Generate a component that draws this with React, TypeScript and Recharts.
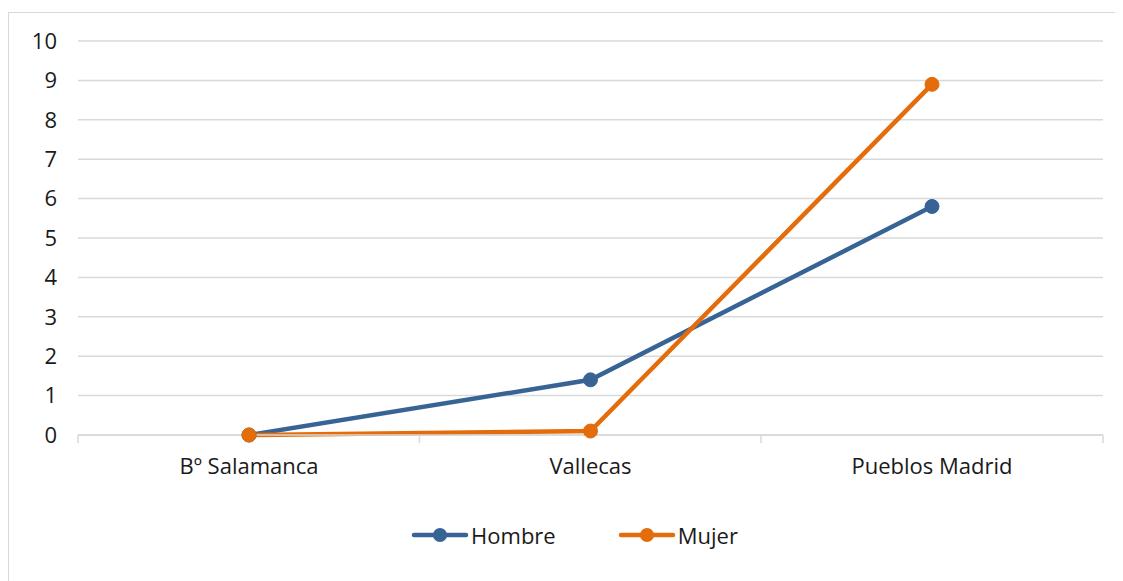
import React from 'react'
import { LineChart, Line, CartesianGrid, XAxis, YAxis, Legend } from 'recharts'

const zonas = ['Bº Salamanca', 'Vallecas', 'Pueblos Madrid']
const hombre = [0, 1.4, 5.8]
const mujer = [0, 0.1, 8.9]
const yTicks = [0, 1, 2, 3, 4, 5, 6, 7, 8, 9, 10]

const data = zonas.map((zona, i) => ({ zona, Hombre: hombre[i], Mujer: mujer[i] }))

const FONT = '"Open Sans", "Noto Sans", sans-serif'
const GRID = '#d9d9d9'
const BLUE = '#386395'
const ORANGE = '#e46c0a'
const HALF_BAND = 171

const CategoryTick = (props: any) => {
	const { x, y, payload, index, visibleTicksCount } = props
	const last = index === visibleTicksCount - 1
	return (
		<g>
			<line x1={x - HALF_BAND} x2={x - HALF_BAND} y1={y} y2={y + 8} stroke={GRID} strokeWidth={1.5} />
			{last && <line x1={x + HALF_BAND} x2={x + HALF_BAND} y1={y} y2={y + 8} stroke={GRID} strokeWidth={1.5} />}
			<text x={x} y={y + 39} textAnchor="middle" fontSize={22} fontFamily={FONT} fill="#1a1a1a">
				{payload.value}
			</text>
		</g>
	)
}

const LegendContent = () => {
	const items = [
		{ name: 'Hombre', color: BLUE },
		{ name: 'Mujer', color: ORANGE },
	]
	return (
		<div style={{ display: 'flex', justifyContent: 'center', gap: 62, marginLeft: 37, fontFamily: FONT, fontSize: 22, color: '#1a1a1a' }}>
			{items.map((it) => (
				<div key={it.name} style={{ display: 'flex', alignItems: 'center' }}>
					<svg width={58} height={18}>
						<line x1={3} x2={55} y1={9} y2={9} stroke={it.color} strokeWidth={4.5} strokeLinecap="round" />
						<circle cx={29} cy={9} r={7} fill={it.color} />
					</svg>
					<span style={{ marginLeft: 2 }}>{it.name}</span>
				</div>
			))}
		</div>
	)
}

export default function App() {
	return (
		<div style={{ paddingTop: 4 }}>
			<div style={{ border: `1px solid ${GRID}`, width: 1120, height: 580, boxSizing: 'content-box' }}>
				<LineChart
					width={1120}
					height={580}
					data={data}
					margin={{ top: 28, right: 26, left: 0, bottom: 0 }}
				>
					<CartesianGrid vertical={false} stroke={GRID} strokeWidth={1.5} />
					<XAxis
						dataKey="zona"
						axisLine={{ stroke: GRID, strokeWidth: 1.5 }}
						tickLine={false}
						tickSize={0}
						tickMargin={0}
						height={128}
						interval={0}
						padding={{ left: HALF_BAND, right: HALF_BAND }}
						tick={<CategoryTick />}
					/>
					<YAxis
						domain={[0, 10]}
						ticks={yTicks}
						width={69}
						axisLine={false}
						tickLine={false}
						tickSize={0}
						tickMargin={21}
						tick={{ fontSize: 22, fontFamily: FONT, fill: '#1a1a1a' }}
					/>
					<Legend verticalAlign="bottom" content={<LegendContent />} wrapperStyle={{ top: 507 }} />
					<Line
						dataKey="Hombre"
						stroke={BLUE}
						strokeWidth={4.5}
						dot={{ r: 7, fill: BLUE, stroke: BLUE, strokeWidth: 1 }}
						isAnimationActive={false}
					/>
					<Line
						dataKey="Mujer"
						stroke={ORANGE}
						strokeWidth={4.5}
						dot={{ r: 7, fill: ORANGE, stroke: ORANGE, strokeWidth: 1 }}
						isAnimationActive={false}
					/>
				</LineChart>
			</div>
		</div>
	)
}
